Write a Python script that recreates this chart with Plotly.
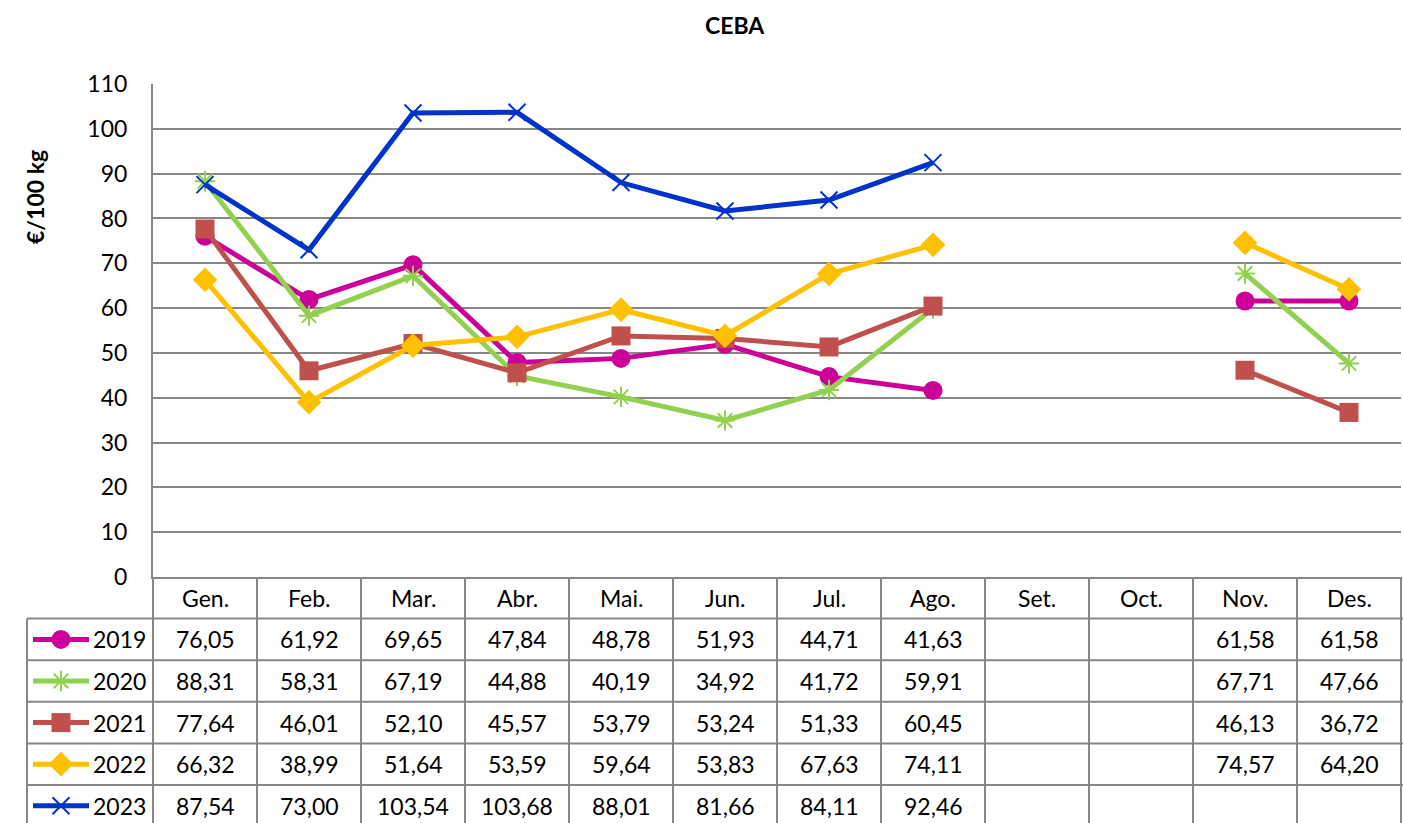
import plotly.graph_objects as go

months = ["Gen.", "Feb.", "Mar.", "Abr.", "Mai.", "Jun.", "Jul.", "Ago.", "Set.", "Oct.", "Nov.", "Des."]
years = ["2019", "2020", "2021", "2022", "2023"]
v2019 = [76.05, 61.92, 69.65, 47.84, 48.78, 51.93, 44.71, 41.63, None, None, 61.58, 61.58]
v2020 = [88.31, 58.31, 67.19, 44.88, 40.19, 34.92, 41.72, 59.91, None, None, 67.71, 47.66]
v2021 = [77.64, 46.01, 52.10, 45.57, 53.79, 53.24, 51.33, 60.45, None, None, 46.13, 36.72]
v2022 = [66.32, 38.99, 51.64, 53.59, 59.64, 53.83, 67.63, 74.11, None, None, 74.57, 64.20]
v2023 = [87.54, 73.00, 103.54, 103.68, 88.01, 81.66, 84.11, 92.46, None, None, None, None]
y_ticks = [0, 10, 20, 30, 40, 50, 60, 70, 80, 90, 100, 110]

values = [v2019, v2020, v2021, v2022, v2023]
colors = ["#CC0099", "#92D050", "#C0504D", "#FFC000", "#0033CC"]
symbols = ["circle", "asterisk-open", "square", "diamond", "x-thin-open"]
msizes = [19, 17, 19, 19, 17]

W, H = 1403, 823
PL, PR, PT, PB = 153, 1401, 84, 577
ROW_H = 41.6
LEG_L = 27
GRID = "#878787"
FONT = "Lato, Carlito, Calibri, sans-serif"
FS = 23
LW = 5
ncol = len(months)
colw = (PR - PL) / ncol

fig = go.Figure()
xs = list(range(ncol))


def marker_for(i):
    m = dict(symbol=symbols[i], size=msizes[i], color=colors[i])
    if "open" in symbols[i]:
        m["line"] = dict(color=colors[i], width=2)
    else:
        m["line"] = dict(width=0)
    return m


for i, yr in enumerate(years):
    fig.add_trace(go.Scatter(
        x=xs, y=values[i], mode="lines+markers", name=yr,
        line=dict(color=colors[i], width=LW),
        marker=marker_for(i), connectgaps=False, showlegend=False,
        xaxis="x", yaxis="y", cliponaxis=False))

shapes = []
annotations = []

row_tops = [PB + ROW_H * k for k in range(len(years) + 2)]
for k in range(ncol + 1):
    x = PL + k * colw
    shapes.append(dict(type="line", xref="x2", yref="y2", x0=x, x1=x, y0=PB, y1=H + 5,
                       line=dict(color=GRID, width=2)))
shapes.append(dict(type="line", xref="x2", yref="y2", x0=LEG_L, x1=LEG_L, y0=row_tops[1], y1=H + 5,
                   line=dict(color=GRID, width=2)))
for k in range(1, len(years) + 1):
    y = row_tops[k]
    shapes.append(dict(type="line", xref="x2", yref="y2", x0=LEG_L, x1=W + 5, y0=y, y1=y,
                       line=dict(color=GRID, width=2)))

for j, m in enumerate(months):
    annotations.append(dict(xref="x2", yref="y2", x=PL + (j + 0.5) * colw, y=PB + ROW_H / 2,
                            text=m, showarrow=False, font=dict(size=FS, color="black", family=FONT),
                            xanchor="center", yanchor="middle"))

for i, yr in enumerate(years):
    yc = row_tops[i + 1] + ROW_H / 2
    for j, v in enumerate(values[i]):
        if v is None:
            continue
        annotations.append(dict(xref="x2", yref="y2", x=PL + (j + 0.5) * colw, y=yc,
                                text=f"{v:.2f}".replace(".", ","), showarrow=False,
                                font=dict(size=FS, color="black", family=FONT),
                                xanchor="center", yanchor="middle"))
    annotations.append(dict(xref="x2", yref="y2", x=91, y=yc, text=yr, showarrow=False,
                            font=dict(size=FS, color="black", family=FONT),
                            xanchor="left", yanchor="middle"))
    fig.add_trace(go.Scatter(x=[33, 89], y=[yc, yc], mode="lines",
                             line=dict(color=colors[i], width=LW), showlegend=False,
                             xaxis="x2", yaxis="y2", hoverinfo="skip"))
    fig.add_trace(go.Scatter(x=[61], y=[yc], mode="markers", marker=marker_for(i),
                             showlegend=False, xaxis="x2", yaxis="y2", hoverinfo="skip"))

annotations.append(dict(xref="x2", yref="y2", x=735, y=25, text="<b>CEBA</b>", showarrow=False,
                        font=dict(size=23, color="black", family=FONT),
                        xanchor="center", yanchor="middle"))
annotations.append(dict(xref="x2", yref="y2", x=35, y=197, text="<b>€/100 kg</b>", showarrow=False,
                        textangle=-90, font=dict(size=23, color="black", family=FONT),
                        xanchor="center", yanchor="middle"))

fig.update_layout(
    width=W, height=H,
    margin=dict(l=0, r=0, t=0, b=0, pad=0, autoexpand=False),
    paper_bgcolor="white", plot_bgcolor="rgba(0,0,0,0)",
    font=dict(family=FONT, size=FS, color="black"),
    xaxis=dict(domain=[PL / W, PR / W], range=[-0.5, ncol - 0.5], showgrid=False,
               showticklabels=False, ticks="", zeroline=False, automargin=False,
               showline=True, linecolor=GRID, linewidth=2, anchor="y", fixedrange=True),
    yaxis=dict(domain=[1 - PB / H, 1 - PT / H], range=[0, 110], tickvals=y_ticks,
               showgrid=True, gridcolor=GRID, gridwidth=2, zeroline=False, automargin=False,
               showline=True, linecolor=GRID, linewidth=2, ticks="",
               ticklabelstandoff=19, tickfont=dict(size=FS, family=FONT, color="black"),
               anchor="x", fixedrange=True),
    xaxis2=dict(domain=[0, 1], range=[0, W], visible=False, anchor="y2", fixedrange=True, automargin=False),
    yaxis2=dict(domain=[0, 1], range=[H, 0], visible=False, anchor="x2", fixedrange=True, automargin=False),
    shapes=shapes, annotations=annotations,
    showlegend=False,
)

fig.write_html("out.html", config={"displayModeBar": False},
               post_script="document.body.style.margin='0px';document.body.style.overflow='hidden';")
